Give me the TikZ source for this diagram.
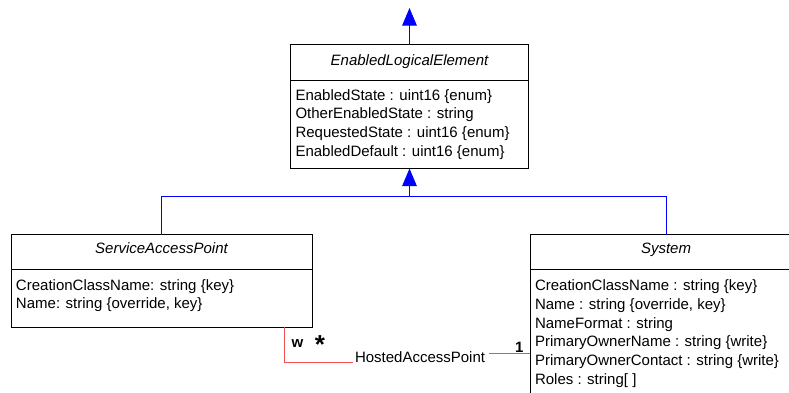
\documentclass[tikz,border=0pt]{standalone}
\usepackage{fontspec}
\setmainfont{Liberation Sans}
\usetikzlibrary{arrows.meta}
\definecolor{genblue}{RGB}{0,0,255}
\definecolor{assocred}{RGB}{240,80,80}
\begin{document}
\begin{tikzpicture}[x=1pt,y=-1pt,
  classbox/.style={draw=black,line width=0.9pt,rectangle,inner sep=0,outer sep=0,anchor=north west},
  divider/.style={draw=black,line width=0.9pt},
  txt/.style={anchor=base west,inner sep=0,outer sep=0,font=\fontsize{15}{18}\selectfont},
  ttl/.style={anchor=base,inner sep=0,outer sep=0,font=\fontsize{15}{18}\selectfont\itshape},
  mult/.style={anchor=base west,inner sep=0,outer sep=0,font=\fontsize{15}{16}\selectfont\bfseries},
  genline/.style={draw=genblue,line width=0.9pt},
  gen/.style={genline,-{Triangle[width=14.5pt,length=17.5pt]},genblue},
  assoc/.style={draw=assocred,line width=1pt}]
\useasboundingbox (0,0) rectangle (789,392);
\clip (0,0) rectangle (789,392);

% EnabledLogicalElement
\node[classbox,minimum width=238pt,minimum height=124pt] (ele) at (290.5,44.5) {};
\draw[divider] (290.5,80.5) -- (528.5,80.5);
\node[ttl] (eletitle) at (409.5,65) {EnabledLogicalElement};
\node[txt] (ea1) at (295.5,100) {EnabledState : uint16 \{enum\}};
\node[txt] (ea2) at (295.5,118.7) {OtherEnabledState : string};
\node[txt] (ea3) at (295.5,137.4) {RequestedState : uint16 \{enum\}};
\node[txt] (ea4) at (295.5,156.1) {EnabledDefault : uint16 \{enum\}};

% ServiceAccessPoint
\node[classbox,minimum width=301pt,minimum height=92.5pt] (sap) at (11,234.5) {};
\draw[divider] (11,269.5) -- (312,269.5);
\node[ttl] (saptitle) at (161.5,253.5) {ServiceAccessPoint};
\node[txt] (sa1) at (16,290.5) {CreationClassName: string \{key\}};
\node[txt] (sa2) at (16,308.9) {Name: string \{override, key\}};

% System
\node[classbox,minimum width=272pt,minimum height=180pt] (sys) at (530,234.5) {};
\draw[divider] (530,269.5) -- (802,269.5);
\node[ttl] (systitle) at (666,253.5) {System};
\node[txt] (sy1) at (535,290.5) {CreationClassName : string \{key\}};
\node[txt] (sy2) at (535,309.2) {Name : string \{override, key\}};
\node[txt] (sy3) at (535,328.0) {NameFormat : string};
\node[txt] (sy4) at (535,346.8) {PrimaryOwnerName : string \{write\}};
\node[txt] (sy5) at (535,365.5) {PrimaryOwnerContact : string \{write\}};
\node[txt] (sy6) at (535,384.3) {Roles : string[ ]};

% Generalization to the superclass above
\coordinate (toptip) at (409.5,8);
\draw[gen] (ele.north) -- (toptip);

% Generalization of the two subclasses
\coordinate (join) at (409.5,196.5);
\draw[genline] (sap.north) |- (join) -| (sys.north);
\draw[gen] (join) -- (ele.south);

% HostedAccessPoint association
\node[txt] (hap) at (355,362.7) {HostedAccessPoint};
\coordinate (assocx) at (284.5,0);
\coordinate (assocr) at (489,353.5);
\draw[assoc] (sap.south -| assocx) |- ([xshift=-2pt,yshift=-0.2pt]hap.base west);
\draw[assoc] (assocr) -- (assocr -| sys.west);
\node[mult] (mw) at (291.5,347) {w};
\node[anchor=center,inner sep=0,font=\fontsize{26}{26}\selectfont\bfseries] (mstar) at (320,344.5) {*};
\node[mult] (mone) at (515,352) {1};
\end{tikzpicture}
\end{document}
